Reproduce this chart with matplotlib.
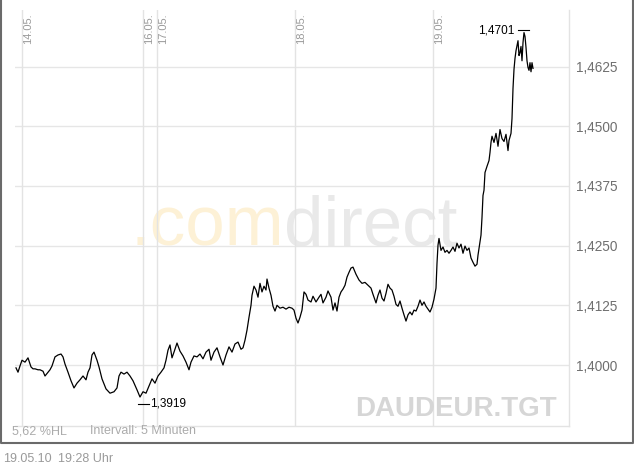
import matplotlib
matplotlib.use('Agg')
import matplotlib.pyplot as plt
from matplotlib.lines import Line2D
import numpy as np

# ---- data: 10-minute bar index (trading time) and price ----
bars = [0, 2, 4, 6, 9, 12, 15, 17, 19, 22, 24, 27, 29, 32, 34, 36, 39, 42, 45, 47, 49, 52,
        55, 58, 61, 64, 67, 70, 72, 74, 76, 78, 81, 83, 86, 90, 94, 98, 101, 103, 105, 108,
        111, 114, 117, 121, 124, 127, 130, 133, 136, 139, 142, 145, 148, 150, 152, 154, 156,
        158, 161, 164, 167, 170, 173, 175, 178, 181, 184, 187, 190, 193, 195, 198, 201, 204,
        207, 210, 213, 216, 219, 222, 225, 227, 229, 231, 233, 235, 236, 238, 240, 242, 244,
        246, 248, 250, 251, 253, 255, 257, 259, 261, 264, 267, 270, 273, 276, 278, 280, 282,
        284, 286, 288, 290, 292, 295, 297, 300, 303, 305, 307, 310, 312, 315, 317, 319, 321,
        323, 325, 327, 329, 331, 333, 335, 337, 340, 343, 346, 349, 352, 355, 357, 360, 362,
        364, 366, 368, 370, 372, 374, 376, 378, 380, 382, 384, 386, 388, 390, 392, 394, 396,
        398, 400, 402, 404, 406, 408, 410, 412, 414, 416, 418, 420, 421, 422, 423, 425, 427,
        429, 431, 433, 435, 437, 439, 441, 443, 445, 447, 449, 451, 453, 455, 457, 459, 461,
        462, 464, 465, 466, 467, 468, 469, 471, 473, 474, 475, 476, 478, 480, 482, 484, 486,
        488, 490, 492, 493, 495, 496, 497, 498, 499, 500, 502, 503, 504, 505, 506, 507, 508,
        509, 510, 511, 512, 513, 514, 515, 516, 517]
prices = [1.3994, 1.3985, 1.3998, 1.4010, 1.4006, 1.4015, 1.3996, 1.3992, 1.3992, 1.3990,
          1.3990, 1.3987, 1.3977, 1.3985, 1.3990, 1.3998, 1.4017, 1.4021, 1.4023, 1.4017,
          1.4002, 1.3985, 1.3967, 1.3952, 1.3962, 1.3969, 1.3977, 1.3969, 1.3985, 1.3994,
          1.4021, 1.4027, 1.4010, 1.3996, 1.3971, 1.3950, 1.3941, 1.3944, 1.3952, 1.3977,
          1.3985, 1.3981, 1.3985, 1.3977, 1.3967, 1.3948, 1.3933, 1.3944, 1.3941, 1.3956,
          1.3971, 1.3962, 1.3977, 1.3985, 1.3994, 1.4010, 1.4031, 1.4042, 1.4015, 1.4027,
          1.4046, 1.4029, 1.4019, 1.4006, 1.3990, 1.4006, 1.4019, 1.4017, 1.4023, 1.4013,
          1.4027, 1.4033, 1.4010, 1.4027, 1.4036, 1.4017, 1.4000, 1.4021, 1.4038, 1.4027,
          1.4044, 1.4048, 1.4033, 1.4036, 1.4052, 1.4073, 1.4100, 1.4125, 1.4146, 1.4165,
          1.4157, 1.4142, 1.4171, 1.4153, 1.4165, 1.4157, 1.4180, 1.4161, 1.4146, 1.4123,
          1.4113, 1.4125, 1.4119, 1.4121, 1.4117, 1.4121, 1.4119, 1.4115, 1.4098, 1.4088,
          1.4100, 1.4115, 1.4153, 1.4148, 1.4136, 1.4132, 1.4144, 1.4132, 1.4142, 1.4148,
          1.4130, 1.4142, 1.4155, 1.4142, 1.4115, 1.4130, 1.4113, 1.4142, 1.4153, 1.4159,
          1.4167, 1.4184, 1.4194, 1.4203, 1.4205, 1.4190, 1.4178, 1.4171, 1.4173, 1.4167,
          1.4161, 1.4148, 1.4130, 1.4146, 1.4157, 1.4140, 1.4134, 1.4150, 1.4169, 1.4161,
          1.4157, 1.4144, 1.4127, 1.4123, 1.4134, 1.4119, 1.4105, 1.4092, 1.4105, 1.4111,
          1.4105, 1.4115, 1.4113, 1.4123, 1.4136, 1.4125, 1.4132, 1.4123, 1.4117, 1.4111,
          1.4121, 1.4138, 1.4161, 1.4213, 1.4251, 1.4265, 1.4240, 1.4247, 1.4236, 1.4240,
          1.4234, 1.4240, 1.4247, 1.4238, 1.4255, 1.4245, 1.4253, 1.4234, 1.4249, 1.4240,
          1.4245, 1.4224, 1.4215, 1.4207, 1.4211, 1.4230, 1.4257, 1.4272, 1.4309, 1.4355,
          1.4366, 1.4403, 1.4416, 1.4428, 1.4445, 1.4466, 1.4479, 1.4466, 1.4485, 1.4458,
          1.4493, 1.4474, 1.4468, 1.4483, 1.4449, 1.4470, 1.4485, 1.4516, 1.4579, 1.4619,
          1.4642, 1.4658, 1.4679, 1.4648, 1.4654, 1.4667, 1.4637, 1.4675, 1.4696, 1.4688,
          1.4665, 1.4637, 1.4623, 1.4617, 1.4633, 1.4614, 1.4633, 1.4621]

day_labels = ['14.05.', '16.05.', '17.05.', '18.05.', '19.05.']
day_bars = [6, 127, 141, 279, 417]
y_ticks = [1.4000, 1.4125, 1.4250, 1.4375, 1.4500, 1.4625]
high_value = 1.4701
low_value = 1.3919
symbol = 'DAUDEUR.TGT'
interval_text = 'Intervall: 5 Minuten'
stamp_date = '19.05.10'
stamp_time = '19:28 Uhr'

plt.rcParams['font.family'] = ['Liberation Sans', 'DejaVu Sans']

W, H = 634, 466
fig = plt.figure(figsize=(W / 100, H / 100), dpi=100)


def fx(px):
    return px / W


def fy(py):
    return 1 - py / H


# outer frame (left, bottom, right; open at top)
fig.lines.append(Line2D([fx(0.75), fx(0.75), fx(632.75), fx(632.75)],
                        [fy(0), fy(443.25), fy(443.25), fy(0)],
                        transform=fig.transFigure, color='#6a6a6a', linewidth=1.5))

ax = fig.add_axes([fx(15), fy(426), fx(569) - fx(15), fy(10) - fy(426)])
ax.set_xlim(-1, 553)
ax.set_ylim(1.38723, 1.47433)
ax.set_facecolor('none')

for s in ['left', 'top']:
    ax.spines[s].set_visible(False)
for s in ['right', 'bottom']:
    ax.spines[s].set_color('#e3e3e3')
    ax.spines[s].set_linewidth(1)

ax.set_xticks([])
ax.set_yticks(y_ticks)
ax.yaxis.tick_right()
ax.tick_params(axis='y', length=0, pad=5, labelsize=9.8, labelcolor='#6f6f6f')
ax.set_yticklabels([f'{v:.4f}'.replace('.', ',') for v in y_ticks])
for v in y_ticks:
    ax.axhline(v, color='#e6e6e6', linewidth=1, zorder=1)

for b, lab in zip(day_bars, day_labels):
    ax.axvline(b, color='#e3e3e3', linewidth=1, zorder=1)
    ax.annotate(lab, xy=(b, 1), xycoords=('data', 'axes fraction'),
                xytext=(1, -3), textcoords='offset pixels', rotation=90,
                ha='left', va='top', fontsize=8, color='#9a9a9a')

# watermark
wm1 = ax.text(0.2076, 0.4327, '.com', transform=ax.transAxes, fontsize=51, color='#fdf1d6',
              ha='left', va='baseline', zorder=0.5)
fig.canvas.draw()
ext = wm1.get_window_extent()
x_end = ax.transAxes.inverted().transform((ext.x1, ext.y0))[0]
ax.text(x_end, 0.4327, 'direct', transform=ax.transAxes, fontsize=51, color='#e9e9e9',
        ha='left', va='baseline', zorder=0.5)

ax.plot(bars, prices, color='black', linewidth=0.9, zorder=3)

# high / low markers
i_hi = int(np.argmax(prices))
i_lo = int(np.argmin(prices))
ax.plot([bars[i_hi] - 6, bars[i_hi] + 5], [high_value, high_value], color='black', lw=0.8, zorder=3)
ax.annotate(f'{high_value:.4f}'.replace('.', ','), xy=(bars[i_hi] - 6, high_value),
            xytext=(-4, 0), textcoords='offset pixels', ha='right', va='center',
            fontsize=8.5, color='black')
ax.plot([bars[i_lo] - 2, bars[i_lo] + 9], [low_value, low_value], color='black', lw=0.8, zorder=3)
ax.annotate(f'{low_value:.4f}'.replace('.', ','), xy=(bars[i_lo] + 9, low_value),
            xytext=(1, 0), textcoords='offset pixels', ha='left', va='center',
            fontsize=8.5, color='black')

hl = (high_value - low_value) / low_value * 100
fig.text(fx(12), fy(431), f'{hl:.2f}'.replace('.', ',') + ' %HL', ha='left', va='center',
         fontsize=9, color='#ababab')
fig.text(fx(90), fy(431), interval_text, ha='left', va='center', fontsize=9, color='#ababab')
fig.text(fx(557), fy(416), symbol, ha='right', va='baseline', fontsize=20,
         fontweight='bold', color='#d6d6d6')
fig.text(fx(3), fy(459), stamp_date, ha='left', va='center', fontsize=9, color='#9a9a9a')
fig.text(fx(58), fy(459), stamp_time, ha='left', va='center', fontsize=9, color='#9a9a9a')

fig.savefig('out.png', dpi=100)
